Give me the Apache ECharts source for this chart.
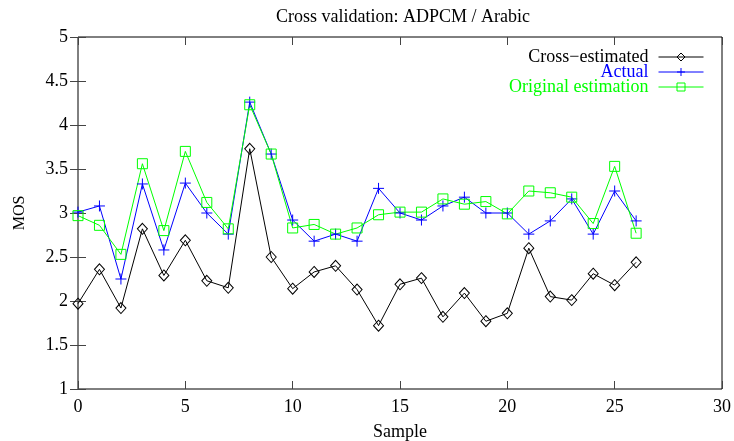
<!DOCTYPE html>
<html>
<head>
<meta charset="utf-8">
<script src="https://cdn.jsdelivr.net/npm/echarts@6/dist/echarts.min.js"></script>
<style>html,body{margin:0;padding:0;background:#fff}#c{width:734px;height:441px}</style>
</head>
<body>
<div id="c"></div>
<script>
var samples = [0,1,2,3,4,5,6,7,8,9,10,11,12,13,14,15,16,17,18,19,20,21,22,23,24,25,26];
var crossEstimated = [1.97,2.36,1.92,2.82,2.29,2.69,2.23,2.15,3.73,2.50,2.14,2.33,2.40,2.13,1.72,2.19,2.26,1.82,2.09,1.77,1.86,2.60,2.05,2.01,2.31,2.18,2.44];
var actual = [3.01,3.08,2.25,3.33,2.58,3.34,3.00,2.76,4.26,3.67,2.92,2.68,2.76,2.68,3.28,3.00,2.92,3.08,3.18,3.00,3.00,2.76,2.91,3.16,2.76,3.25,2.91];
var originalEstimation = [2.97,2.86,2.53,3.56,2.80,3.70,3.12,2.82,4.23,3.67,2.83,2.87,2.76,2.83,2.98,3.01,3.01,3.16,3.10,3.13,2.99,3.25,3.23,3.18,2.88,3.53,2.77];
var seriesNames = ['Cross\u2212estimated','Actual','Original estimation'];

function pairs(arr){ return arr.map(function(v,i){ return [samples[i], v]; }); }
var font = 'Liberation Serif, Times New Roman, serif';
var chart = echarts.init(document.getElementById('c'));
var tickStyle = {show:true, inside:true, length:8, lineStyle:{color:'#444', width:1}};
chart.setOption({
  animation:false,
  backgroundColor:'#fff',
  title:{text:'Cross validation: ADPCM / Arabic', left:398, top:3, textAlign:'center',
    textStyle:{fontFamily:font, fontSize:18, fontWeight:'normal', color:'#000'}},
  legend:{
    orient:'vertical', right:25, top:43, align:'right', itemGap:-3,
    itemWidth:45, itemHeight:10,
    lineStyle:{width:1},
    itemStyle:{borderWidth:1},
    data:[
      {name:seriesNames[0], textStyle:{color:'#000'}},
      {name:seriesNames[1], textStyle:{color:'#0000ff'}},
      {name:seriesNames[2], textStyle:{color:'#00ff00'}}
    ],
    textStyle:{fontFamily:font, fontSize:18, width:210, align:'right', padding:[0,5,0,0]}
  },
  grid:{left:78, right:12, top:37, bottom:52, show:true, borderColor:'#000', borderWidth:1,
    containLabel:false, outerBoundsMode:'none'},
  xAxis:[{
    type:'value', min:0, max:30, interval:5, name:'Sample', nameLocation:'middle', nameGap:34,
    nameTextStyle:{fontFamily:font, fontSize:18, color:'#000'},
    axisLine:{show:false}, axisTick:tickStyle, splitLine:{show:false},
    axisLabel:{fontFamily:font, fontSize:18, color:'#000', margin:9}
  },{
    type:'value', position:'top', min:0, max:30, interval:5,
    axisLine:{show:false}, axisTick:tickStyle, splitLine:{show:false}, axisLabel:{show:false}
  }],
  yAxis:[{
    type:'value', min:1, max:5, interval:0.5, name:'MOS', nameLocation:'middle', nameGap:50,
    nameTextStyle:{fontFamily:font, fontSize:16, color:'#000'},
    axisLine:{show:false}, axisTick:tickStyle, splitLine:{show:false},
    axisLabel:{fontFamily:font, fontSize:18, color:'#000', margin:10}
  },{
    type:'value', position:'right', min:1, max:5, interval:0.5,
    axisLine:{show:false}, axisTick:tickStyle, splitLine:{show:false}, axisLabel:{show:false}
  }],
  series:[{
    name:seriesNames[0], type:'line', data:pairs(crossEstimated),
    symbol:'path://M5,0L10,5L5,10L0,5Z', symbolSize:[10,11], showAllSymbol:true,
    lineStyle:{color:'#000', width:1}, itemStyle:{color:'rgba(0,0,0,0)', borderColor:'#000', borderWidth:1}
  },{
    name:seriesNames[1], type:'line', data:pairs(actual),
    symbol:'path://M0,5L10,5M5,0L5,10', symbolSize:11, showAllSymbol:true,
    lineStyle:{color:'#0000ff', width:1}, itemStyle:{color:'#0000ff', borderColor:'#0000ff', borderWidth:1}
  },{
    name:seriesNames[2], type:'line', data:pairs(originalEstimation),
    symbol:'path://M0,0L10,0L10,10L0,10Z', symbolSize:10, showAllSymbol:true,
    lineStyle:{color:'#00ff00', width:1}, itemStyle:{color:'rgba(0,0,0,0)', borderColor:'#00ff00', borderWidth:1}
  }]
});
</script>
</body>
</html>
